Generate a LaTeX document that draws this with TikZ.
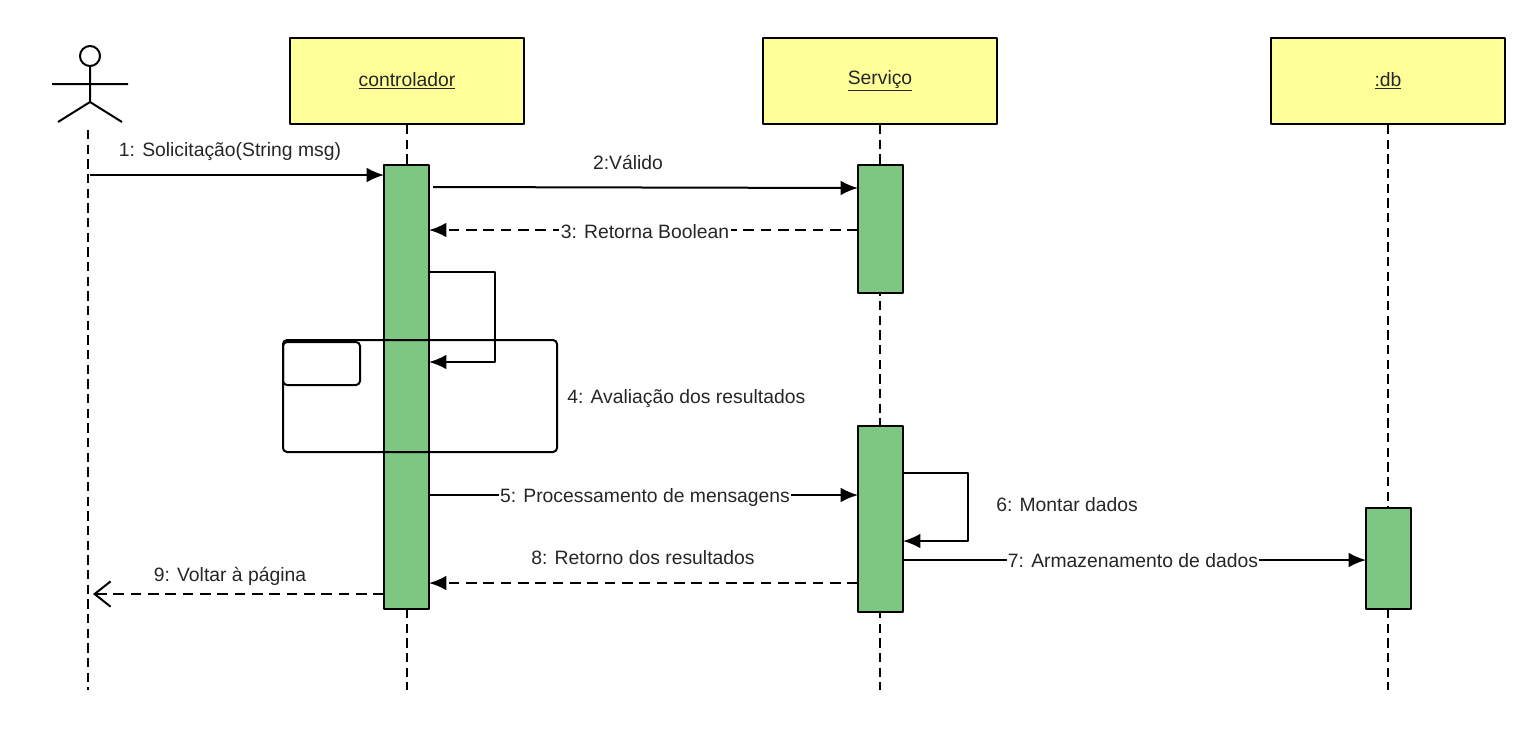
\documentclass[tikz,border=0pt]{standalone}
\usepackage{fontspec}
\setmainfont{Liberation Sans}
\usetikzlibrary{arrows.meta}
\definecolor{headfill}{HTML}{FFFF99}
\definecolor{barfill}{HTML}{7DC783}
\tikzset{
  every picture/.style={line width=1.5pt},
  head/.style={draw,fill=headfill,minimum width=175.5pt,minimum height=64.5pt,inner sep=0pt},
  bar/.style={draw,fill=barfill,minimum width=33.75pt,inner sep=0pt},
  life/.style={dash pattern=on 7pt off 4pt},
  msg/.style={-{Latex[length=13pt,width=11pt]}},
  ret/.style={msg,dash pattern=on 8pt off 5pt},
  lbl/.style={font=\fontsize{14.5}{17}\selectfont,text=black!85,inner sep=1pt}
}
\begin{document}
\begin{tikzpicture}[x=0.75pt,y=-0.75pt,line join=round]
        \useasboundingbox (0,0) rectangle (1540,733);
        % the actor
        \draw (90,56) circle(10);
        \draw (90,66) -- (90,102) (52,84) -- (128,84) (58,122) -- (90,102) -- (122,122);
        \draw[life] (88,130) -- (88,690);

        % heads and lifelines
        \foreach \n/\x/\t in {ctrl/407/controlador, serv/880/Serviço, db/1388/:db} {
                \node[head,lbl,inner sep=0pt,minimum width=175.5pt,minimum height=64.5pt] (\n) at (\x,81) {\underline{\t}};
                \draw[life] (\n.south) -- (\x,690);
        }

        % activation bars
        \node[bar,minimum height=333pt] (ctrlbar) at (406.5,387) {};
        \node[bar,minimum height=96pt] (servbar1) at (880.5,229) {};
        \node[bar,minimum height=139.5pt] (servbar2) at (880.5,519) {};
        \node[bar,minimum height=75.75pt] (dbbar) at (1388,558.5) {};

        % fragment frame
        \draw[rounded corners=3pt] (283,340) rectangle (557,452);
        \draw[rounded corners=3pt] (283,342) rectangle (360,385);
        \node[lbl,anchor=west] (eval) at (565,399) {4: Avaliação dos resultados};

        % message ends
        \coordinate (a1) at (90,175);   \coordinate (b1) at (384,175);
        \coordinate (a2) at (433,187);  \coordinate (b2) at (858,188);
        \coordinate (a3) at (858,230);  \coordinate (b3) at (429,230);
        \coordinate (a5) at (429,495);  \coordinate (b5) at (858,495);
        \coordinate (a7) at (903,560);  \coordinate (b7) at (1366,560);
        \coordinate (a8) at (858,583);  \coordinate (b8) at (429,583);
        \coordinate (a9) at (384,594);  \coordinate (b9) at (93,594);

        % messages
        \draw[msg] (a1) -- (b1);
        \node[lbl] (m1) at (230,152) {1: Solicitação(String msg)};
        \draw[msg] (a2) -- (b2);
        \node[lbl] (m2) at (628,162) {2:Válido};
        \draw[ret] (a3) -- (b3);
        \node[lbl,fill=white] (m3) at (645,232) {3: Retorna Boolean};
        \draw[msg] (429,272) -- (495,272) -- (495,362) -- (429,362);
        \draw[msg] (a5) -- (b5);
        \node[lbl,fill=white] (m5) at (645,497) {5: Processamento de mensagens};
        \draw[msg] (903,473) -- (968,473) -- (968,541) -- (903,541);
        \node[lbl] (m6) at (1067,505) {6: Montar dados};
        \draw[msg] (a7) -- (b7);
        \node[lbl,fill=white] (m7) at (1133,561) {7: Armazenamento de dados};
        \draw[ret] (a8) -- (b8);
        \node[lbl] (m8) at (643,558) {8: Retorno dos resultados};
        \draw[dash pattern=on 8pt off 5pt,-{Straight Barb[length=12pt,width=19pt]}] (a9) -- (b9);
        \node[lbl] (m9) at (230,576) {9: Voltar à página};
\end{tikzpicture}
\end{document}
